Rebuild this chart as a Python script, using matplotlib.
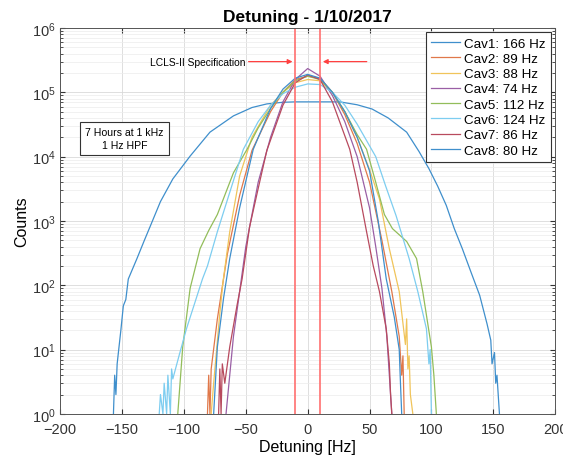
import numpy as np
import matplotlib
matplotlib.use("Agg")
import matplotlib.pyplot as plt

plt.rcParams["font.family"] = ["Liberation Sans", "DejaVu Sans"]

# Histogram outlines: detuning [Hz] and counts
cav_labels = ["Cav1: 166 Hz", "Cav2: 89 Hz", "Cav3: 88 Hz", "Cav4: 74 Hz",
              "Cav5: 112 Hz", "Cav6: 124 Hz", "Cav7: 86 Hz", "Cav8: 80 Hz"]

cav1_x = [-157, -156, -155, -154, -153, -151, -149, -147, -145, -138, -132, -127, -119, -109,
          -95, -79, -60, -45, -33, -20, -10, 0, 10, 20, 26, 40, 52, 65,
          80, 90, 98, 105, 112, 118.5, 125, 132, 139, 145, 148, 149, 151, 152, 153, 155]
cav1_y = [1, 4, 2, 6, 9, 20, 48, 60, 125, 260, 500, 850, 2000, 4500,
          10200, 24000, 43000, 58000, 66000, 70000, 71000, 71000, 71000, 71000, 71000, 64000, 55000, 40000,
          24000, 12000, 6500, 3500, 1750, 760, 370, 160, 70, 25, 14, 6, 9, 3, 4, 1]

cav2_x = [-81, -80, -79, -78, -73, -65, -55, -45, -30, -20, -10, 0, 10, 20, 30, 40, 50, 60, 68, 74, 76, 77, 78]
cav2_y = [1, 4, 1, 5, 30, 300, 2500, 12500, 50000, 100000, 158000, 178000, 166000, 100000, 45000, 16000, 4000, 500, 80, 16, 4, 8, 1]

cav3_x = [-78, -76, -71, -68.5, -63, -55, -45, -30, -20, -10, 0, 10, 20, 30, 40, 50, 58, 66, 74,
          79, 80, 81, 82, 83, 85]
cav3_y = [1, 3, 37, 110, 680, 5000, 20000, 63000, 100000, 141000, 158000, 151000, 100000, 50000, 20000, 6300, 2200, 370, 80,
          12, 30, 5, 8, 2, 1]

cav4_x = [-66, -63, -60, -55, -50, -40, -30, -20, -10, 0, 10, 20, 30, 40, 50, 55, 60, 64, 66, 68]
cav4_y = [1, 4, 16, 80, 400, 4000, 20000, 71000, 158000, 234000, 178000, 89000, 35000, 10000, 1600, 400, 90, 16, 4, 1]

cav5_x = [-105, -101, -95, -87, -80, -73, -60, -49, -40, -30, -20, -10, 0, 10, 20, 30, 40,
          47.6, 55, 62, 68.5, 80, 88, 93, 100, 102, 104]
cav5_y = [1, 11, 90, 370, 710, 1260, 5600, 13000, 28000, 56000, 100000, 151000, 178000, 158000, 100000, 50000, 22000,
          13000, 4000, 1260, 760, 480, 260, 80, 11, 4, 1]

cav6_x = [-120, -119, -117, -116, -114, -113, -111, -110, -109, -104, -98, -85, -81, -73, -62, -52, -40, -30, -20,
          -10, 0, 10, 20, 30, 40, 55, 63, 71.5, 82, 89, 96, 98, 99, 100]
cav6_y = [1, 2, 1, 3, 1, 4, 1, 5, 3.5, 8, 21, 126, 200, 680, 3200, 13000, 35000, 63000, 95000,
          120000, 135000, 132000, 100000, 63000, 32000, 10000, 3500, 1200, 260, 80, 21, 6, 10, 1]

cav7_x = [-72, -71, -70, -69, -67, -63, -57, -53, -47, -40, -33, -20, -10, 0, 10, 20, 34, 40, 47.6, 53, 58, 63.5,
          66, 67, 68]
cav7_y = [1, 5, 1, 6, 3, 11, 50, 126, 800, 3200, 12500, 63000, 141000, 186000, 158000, 71000, 13000, 4000, 680, 200, 80, 21,
          6, 2, 1]

cav8_x = [-76, -73, -68, -63, -55, -44, -30, -20, -10, 0, 10, 20, 30, 40, 50, 57, 63.5, 70, 74, 75, 76]
cav8_y = [1, 11, 63, 260, 1600, 13000, 56000, 112000, 166000, 190000, 166000, 100000, 50000, 20000, 6000, 1000, 126, 32, 10, 3, 1]

cav_x = [cav1_x, cav2_x, cav3_x, cav4_x, cav5_x, cav6_x, cav7_x, cav8_x]
cav_y = [cav1_y, cav2_y, cav3_y, cav4_y, cav5_y, cav6_y, cav7_y, cav8_y]

# MATLAB default line colours, slightly washed out like the screenshot
colors = ["#3f8fcc", "#e0784a", "#f0c45a", "#9a5fa5", "#92bd5a",
          "#7dcdf0", "#b84a5e", "#3f8fcc"]

spec = 10  # LCLS-II detuning spec [Hz]

fig = plt.figure(figsize=(5.63, 4.60), dpi=100)
ax = fig.add_axes([0.107, 0.098, 0.879, 0.839])

for x, y, c, lab in zip(cav_x, cav_y, colors, cav_labels):
    ax.plot(x, y, color=c, linewidth=0.9, label=lab)

ax.axvline(-spec, color="#ff7070", linewidth=1.2)
ax.axvline(spec, color="#ff7070", linewidth=1.2)

ax.annotate("", xy=(-spec, 3e5), xytext=(-50, 3e5),
            arrowprops=dict(arrowstyle="-|>", color="#ff4040", lw=0.9, mutation_scale=7))
ax.annotate("", xy=(spec, 3e5), xytext=(50, 3e5),
            arrowprops=dict(arrowstyle="-|>", color="#ff4040", lw=0.9, mutation_scale=7))
ax.text(-50, 3e5, "LCLS-II Specification", fontsize=7.4, ha="right", va="center")

ax.text(-148, 1.9e4, "7 Hours at 1 kHz\n1 Hz HPF", fontsize=7.6, ha="center", va="center",
        linespacing=1.35,
        bbox=dict(boxstyle="square,pad=0.5", facecolor="white", edgecolor="#333333", linewidth=0.8))

ax.set_yscale("log")
ax.set_xlim(-200, 200)
ax.set_ylim(1, 1e6)
ax.set_xticks([-200, -150, -100, -50, 0, 50, 100, 150, 200])
ax.grid(True, which="major", color="#d9d9d9", linewidth=0.6)
ax.grid(True, which="minor", axis="y", color="#ececec", linewidth=0.5)
ax.tick_params(which="both", direction="in", top=True, right=True, labelsize=10.5, colors="#333333")
ax.tick_params(axis="x", pad=6)
for s in ax.spines.values():
    s.set_color("#555555")
    s.set_linewidth(0.7)

ax.set_title("Detuning - 1/10/2017", fontsize=12.5, fontweight="bold", pad=5)
ax.set_xlabel("Detuning [Hz]", fontsize=11.5, labelpad=2)
ax.set_ylabel("Counts", fontsize=11.5, labelpad=2)

leg = ax.legend(loc="upper right", fontsize=9.6, handlelength=2.2, handletextpad=0.3,
                labelspacing=0.22, borderpad=0.4, borderaxespad=0.3, fancybox=False, framealpha=1,
                bbox_to_anchor=(1.0, 1.0))
leg.get_frame().set_edgecolor("#333333")
leg.get_frame().set_linewidth(0.8)

fig.savefig("out.png", dpi=100)
